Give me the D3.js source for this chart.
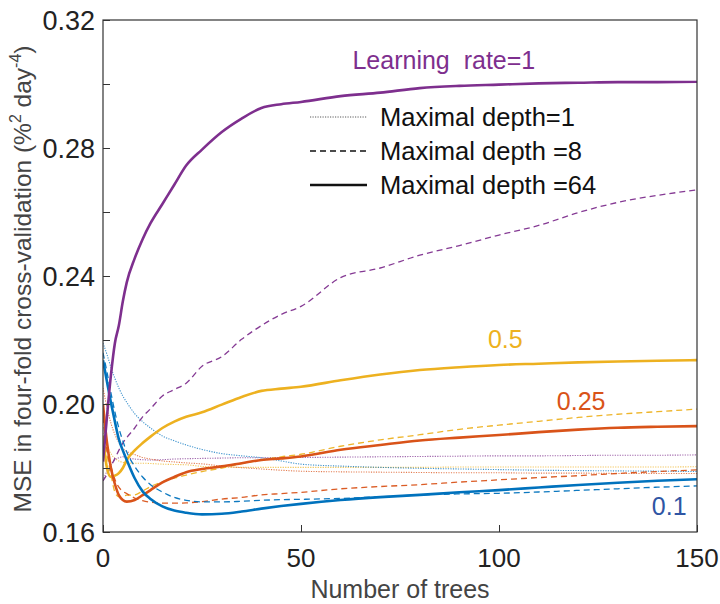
<!DOCTYPE html>
<html>
<head>
<meta charset="utf-8">
<script src="https://cdn.jsdelivr.net/npm/d3@7"></script>
<style>
  html, body { margin: 0; padding: 0; background: #fff; }
  svg { display: block; font-family: "Liberation Sans", Arial, Helvetica, sans-serif; }
</style>
</head>
<body>
<svg id="chart" width="720" height="604"></svg>
<script>
// Number of trees at which each CV curve is sampled
const trees = [0, 1, 2, 3, 4, 5, 6, 8, 10, 12, 15, 18, 21, 25, 30, 35, 40, 45, 50,
               60, 70, 80, 90, 100, 110, 120, 130, 140, 150];

// Learning rate = 1
const lr1_depth1  = [0.176, 0.179, 0.181, 0.1825, 0.1832, 0.1835, 0.1832, 0.1828, 0.1826, 0.1825, 0.1826, 0.1828, 0.1829, 0.1830,
                     0.1831, 0.1832, 0.1832, 0.1833, 0.1833, 0.1834, 0.1835, 0.1836, 0.1837, 0.1838, 0.1838, 0.1839, 0.1840, 0.1840, 0.1841];
const lr1_depth8  = [0.176, 0.178, 0.1805, 0.183, 0.1855, 0.1878, 0.1895, 0.1925, 0.196, 0.1985, 0.2025, 0.2045, 0.2065, 0.2118,
                     0.2148, 0.2202, 0.2245, 0.228, 0.2305, 0.2395, 0.2425, 0.2465, 0.2495, 0.2528, 0.2558, 0.2598, 0.263, 0.2652, 0.2669];
const lr1_depth64 = [0.182, 0.196, 0.209, 0.219, 0.2245, 0.232, 0.238, 0.2455, 0.2515, 0.2565, 0.2625, 0.2685, 0.2745, 0.2795,
                     0.285, 0.2892, 0.2925, 0.2937, 0.2944, 0.2962, 0.2973, 0.2987, 0.2994, 0.2998, 0.3002, 0.3004, 0.3006, 0.3006, 0.3007];

// Learning rate = 0.5
const lr05_depth1  = [0.191, 0.187, 0.1845, 0.183, 0.1822, 0.1818, 0.1816, 0.1815, 0.1815, 0.1814, 0.1812, 0.1811, 0.181, 0.1805,
                      0.1803, 0.1802, 0.1802, 0.1802, 0.1802, 0.1802, 0.1802, 0.1802, 0.1803, 0.1803, 0.1803, 0.1803, 0.1803, 0.1803, 0.1804];
const lr05_depth8  = [0.190, 0.184, 0.178, 0.1725, 0.171, 0.1712, 0.1715, 0.1716, 0.1728, 0.1742, 0.1757, 0.1768, 0.1778, 0.1789,
                      0.1800, 0.1814, 0.1825, 0.1835, 0.1843, 0.1868, 0.1888, 0.1904, 0.1921, 0.1934, 0.1946, 0.1958, 0.1968, 0.1976, 0.1984];
const lr05_depth64 = [0.190, 0.180, 0.1772, 0.1776, 0.1784, 0.180, 0.1825, 0.1855, 0.1878, 0.1898, 0.1925, 0.1945, 0.196, 0.1974,
                      0.1998, 0.2022, 0.2041, 0.2048, 0.2054, 0.2074, 0.2092, 0.2106, 0.2115, 0.2122, 0.2126, 0.2130, 0.2133, 0.2135, 0.2137];

// Learning rate = 0.25
const lr025_depth1  = [0.205, 0.199, 0.194, 0.1905, 0.188, 0.1862, 0.1852, 0.1842, 0.1833, 0.1828, 0.1822, 0.1819, 0.1816, 0.1813,
                       0.1806, 0.1801, 0.1797, 0.1793, 0.1790, 0.1788, 0.1787, 0.1786, 0.1785, 0.1785, 0.1784, 0.1784, 0.1783, 0.1783, 0.1783];
const lr025_depth8  = [0.196, 0.1855, 0.1805, 0.1765, 0.174, 0.1727, 0.172, 0.1706, 0.1698, 0.1693, 0.169, 0.169, 0.1691, 0.1695,
                       0.1703, 0.1708, 0.1716, 0.172, 0.1724, 0.1735, 0.1742, 0.1748, 0.1756, 0.1763, 0.177, 0.1776, 0.1783, 0.1789, 0.1794];
const lr025_depth64 = [0.200, 0.188, 0.180, 0.175, 0.1715, 0.170, 0.1695, 0.170, 0.1715, 0.1731, 0.1755, 0.1772, 0.1787, 0.1797,
                       0.1805, 0.1815, 0.1825, 0.183, 0.1836, 0.1857, 0.1872, 0.1886, 0.1895, 0.1903, 0.1912, 0.1920, 0.1926, 0.1929, 0.1931];

// Learning rate = 0.1
const lr01_depth1  = [0.219, 0.2155, 0.2115, 0.208, 0.205, 0.2025, 0.2005, 0.197, 0.1945, 0.1925, 0.190, 0.1885, 0.1872, 0.1858,
                      0.1845, 0.1838, 0.1832, 0.1822, 0.1812, 0.1806, 0.1802, 0.1799, 0.1797, 0.1795, 0.1793, 0.1792, 0.1791, 0.179, 0.1789];
const lr01_depth8  = [0.216, 0.210, 0.2035, 0.1975, 0.1925, 0.1885, 0.185, 0.1805, 0.1772, 0.1748, 0.1725, 0.1708, 0.1699, 0.1694,
                      0.1694, 0.1696, 0.1699, 0.1701, 0.1702, 0.1705, 0.1710, 0.1716, 0.1719, 0.1721, 0.1725, 0.1730, 0.1735, 0.1740, 0.1744];
const lr01_depth64 = [0.2137, 0.207, 0.2005, 0.1945, 0.189, 0.1855, 0.1825, 0.1768, 0.1727, 0.1703, 0.168, 0.1667, 0.166, 0.1655,
                      0.1657, 0.1664, 0.1673, 0.1681, 0.1688, 0.1700, 0.1709, 0.1716, 0.1724, 0.1731, 0.1739, 0.1747, 0.1754, 0.1760, 0.1765];

// Axis ticks
const xTicks = [0, 50, 100, 150];
const yTicks = [0.16, 0.18, 0.20, 0.22, 0.24, 0.26, 0.28, 0.30, 0.32];
const yTickLabels = ["0.16", "", "0.20", "", "0.24", "", "0.28", "", "0.32"];

// Depth legend entries
const depthLabels = ["Maximal depth=1", "Maximal depth =8", "Maximal depth =64"];

// Series: learning-rate colour, depth line style
const colors = { "1": "#7E2F8E", "0.5": "#EDB120", "0.25": "#D95319", "0.1": "#0072BD" };
const styles = {
  1:  { width: 1.1, dash: "1.2,1.3", opacity: 0.75 },
  8:  { width: 1.3, dash: "6,4", opacity: 0.95 },
  64: { width: 2.6, dash: null, opacity: 1 }
};
const series = [
  { lr: "1",    depth: 1,  values: lr1_depth1 },
  { lr: "0.5",  depth: 1,  values: lr05_depth1 },
  { lr: "0.25", depth: 1,  values: lr025_depth1 },
  { lr: "0.1",  depth: 1,  values: lr01_depth1 },
  { lr: "1",    depth: 8,  values: lr1_depth8 },
  { lr: "0.5",  depth: 8,  values: lr05_depth8 },
  { lr: "0.25", depth: 8,  values: lr025_depth8 },
  { lr: "0.1",  depth: 8,  values: lr01_depth8 },
  { lr: "0.5",  depth: 64, values: lr05_depth64 },
  { lr: "0.25", depth: 64, values: lr025_depth64 },
  { lr: "0.1",  depth: 64, values: lr01_depth64 },
  { lr: "1",    depth: 64, values: lr1_depth64 }
];

const svg = d3.select("#chart");
const m = { left: 103, top: 20, right: 697, bottom: 532 };

const x = d3.scaleLinear().domain([0, 150]).range([m.left, m.right]);
const y = d3.scaleLinear().domain([0.16, 0.32]).range([m.bottom, m.top]);

// Clip the curves to the axes box
svg.append("defs").append("clipPath").attr("id", "plot-clip")
  .append("rect").attr("x", m.left).attr("y", m.top)
  .attr("width", m.right - m.left).attr("height", m.bottom - m.top);

const line = d3.line()
  .x((d, i) => x(trees[i]))
  .y(d => y(d))
  .curve(d3.curveMonotoneX);

const curves = svg.append("g").attr("clip-path", "url(#plot-clip)");
curves.selectAll("path")
  .data(series)
  .join("path")
  .attr("d", d => line(d.values))
  .attr("fill", "none")
  .attr("stroke", d => colors[d.lr])
  .attr("stroke-width", d => styles[d.depth].width)
  .attr("stroke-dasharray", d => styles[d.depth].dash)
  .attr("stroke-opacity", d => styles[d.depth].opacity)
  .attr("stroke-linejoin", "round");

// Axes with inward ticks
const axisColor = "#333";
const yAxis = svg.append("g").attr("transform", `translate(${m.left},0)`)
  .call(d3.axisRight(y).tickValues(yTicks).tickSize(7).tickFormat(""));
const xAxis = svg.append("g").attr("transform", `translate(0,${m.bottom})`)
  .call(d3.axisTop(x).tickValues(xTicks).tickSize(7).tickFormat(""));
[yAxis, xAxis].forEach(g => {
  g.select(".domain").remove();
  g.selectAll("line").attr("stroke", axisColor).attr("stroke-width", 1);
});

// Axes box
svg.append("rect")
  .attr("x", m.left).attr("y", m.top)
  .attr("width", m.right - m.left).attr("height", m.bottom - m.top)
  .attr("fill", "none").attr("stroke", axisColor).attr("stroke-width", 1.2);

// Tick labels
svg.append("g").selectAll("text")
  .data(yTicks.map((v, i) => ({ v, label: yTickLabels[i] })).filter(d => d.label))
  .join("text")
  .attr("x", m.left - 8)
  .attr("y", d => y(d.v))
  .attr("dy", "0.36em")
  .attr("text-anchor", "end")
  .attr("font-size", 27)
  .attr("fill", "#222")
  .text(d => d.label);

svg.append("g").selectAll("text")
  .data(xTicks)
  .join("text")
  .attr("x", d => x(d))
  .attr("y", m.bottom + 35)
  .attr("text-anchor", "middle")
  .attr("font-size", 26)
  .attr("fill", "#222")
  .text(d => d);

// Axis titles
svg.append("text")
  .attr("x", (m.left + m.right) / 2)
  .attr("y", 598)
  .attr("text-anchor", "middle")
  .attr("font-size", 25)
  .attr("fill", "#444")
  .text("Number of trees");

const yTitle = svg.append("text")
  .attr("transform", `translate(31,${(m.top + m.bottom) / 2 + 3}) rotate(-90)`)
  .attr("text-anchor", "middle")
  .attr("font-size", 24.5)
  .attr("fill", "#444");
yTitle.append("tspan").text("MSE in four-fold cross-validation (%");
yTitle.append("tspan").attr("font-size", 16).attr("dy", -10).text("2");
yTitle.append("tspan").attr("dy", 10).text(" day");
yTitle.append("tspan").attr("font-size", 16).attr("dy", -10).text("-4");
yTitle.append("tspan").attr("dy", 10).text(")");

// Learning-rate labels
const rateLabels = [
  { text: "Learning\u00a0 rate=1", t: 63, v: 0.3048, color: "#7E2F8E" },
  { text: "0.5",  t: 97.2, v: 0.2175, color: "#EDB120" },
  { text: "0.25", t: 114.6, v: 0.1981, color: "#D95319" },
  { text: "0.1",  t: 138.6, v: 0.1653, color: "#2F55A4" }
];
svg.append("g").selectAll("text")
  .data(rateLabels)
  .join("text")
  .attr("x", d => x(d.t))
  .attr("y", d => y(d.v))
  .attr("font-size", 25)
  .attr("fill", d => d.color)
  .text(d => d.text);

// Depth legend
const legend = svg.append("g");
const legendRows = depthLabels.map((label, i) => ({ label, depth: [1, 8, 64][i], row: i }));
legend.selectAll("line")
  .data(legendRows)
  .join("line")
  .attr("x1", 310).attr("x2", 367)
  .attr("y1", d => 117 + d.row * 34).attr("y2", d => 117 + d.row * 34)
  .attr("stroke", "#111")
  .attr("stroke-width", d => d.depth === 64 ? 2.6 : (d.depth === 8 ? 1.3 : 1))
  .attr("stroke-dasharray", d => d.depth === 64 ? null : (d.depth === 8 ? "6,4" : "1.2,1.3"))
  .attr("stroke-opacity", d => d.depth === 1 ? 0.7 : 1);
legend.selectAll("text")
  .data(legendRows)
  .join("text")
  .attr("x", 380)
  .attr("y", d => 117 + d.row * 34)
  .attr("dy", "0.36em")
  .attr("font-size", 25.5)
  .attr("fill", "#111")
  .text(d => d.label);
</script>
</body>
</html>
